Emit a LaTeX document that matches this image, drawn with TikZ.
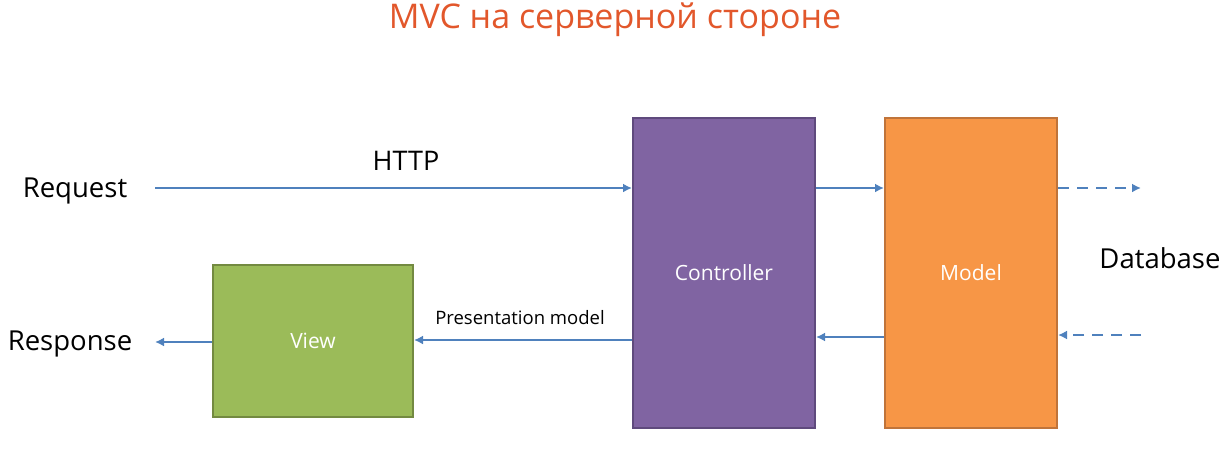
\documentclass[tikz,border=0pt]{standalone}
\usepackage{fontspec}
\setmainfont{Open Sans}
\usetikzlibrary{arrows.meta}
\definecolor{titlecol}{HTML}{E2572B}
\definecolor{ctrlfill}{HTML}{8064A2}
\definecolor{ctrldraw}{HTML}{5F4A7D}
\definecolor{modelfill}{HTML}{F79646}
\definecolor{modeldraw}{HTML}{C0743A}
\definecolor{viewfill}{HTML}{9BBB59}
\definecolor{viewdraw}{HTML}{738A41}
\definecolor{flow}{HTML}{4F81BD}
\tikzset{
  block/.style={draw, line width=2pt, inner sep=0pt, font=\fontsize{21}{25}\selectfont, text=white},
  flowarrow/.style={draw=flow, line width=2.7pt, -{Latex[length=9pt,width=9pt]}},
  dashflow/.style={flowarrow, dash pattern=on 11pt off 8pt},
  plain/.style={font=\fontsize{27.5}{32}\selectfont, inner sep=0pt},
}
\begin{document}
\begin{tikzpicture}[x=1pt,y=-1pt]
\useasboundingbox (0,0) rectangle (1223,451);
% title
\node[font=\fontsize{34}{40}\selectfont, text=titlecol, inner sep=0pt] (title) at (615,20) {MVC на серверной стороне};
% blocks
\node[block, fill=ctrlfill, draw=ctrldraw, minimum width=182pt, minimum height=310pt] (ctrl) at (724,273) {Controller};
\node[block, fill=modelfill, draw=modeldraw, minimum width=172pt, minimum height=310pt] (model) at (971,273) {Model};
\node[block, fill=viewfill, draw=viewdraw, minimum width=200pt, minimum height=152pt] (view) at (313,341) {View};
% outer labels
\node[plain] (req) at (75,191) {Request};
\node[plain] (resp) at (70,344) {Response};
\node[plain] (db) at (1160,258) {Database};
\node[font=\fontsize{27}{32}\selectfont, inner sep=0pt] (http) at (406,161) {HTTP};
\node[font=\fontsize{18.5}{22}\selectfont, inner sep=0pt] (pm) at (520,318) {Presentation model};
% arrow end points
\coordinate (reqend) at (155,188);
\coordinate (respend) at (155,342);
\coordinate (dbout) at (1141,188);
\coordinate (dbin) at (1141,335);
% connectors
\draw[flowarrow] (reqend) -- (ctrl.west |- reqend);
\draw[flowarrow] (ctrl.east |- reqend) -- (model.west |- reqend);
\draw[flowarrow] (model.west |- 0,337) -- (ctrl.east |- 0,337);
\draw[flowarrow] (ctrl.west |- 0,340) -- (view.east |- 0,340);
\draw[flowarrow] (view.west |- respend) -- (respend);
\draw[dashflow] (model.east |- dbout) -- (dbout);
\draw[dashflow] (dbin) -- (model.east |- dbin);
\end{tikzpicture}
\end{document}
